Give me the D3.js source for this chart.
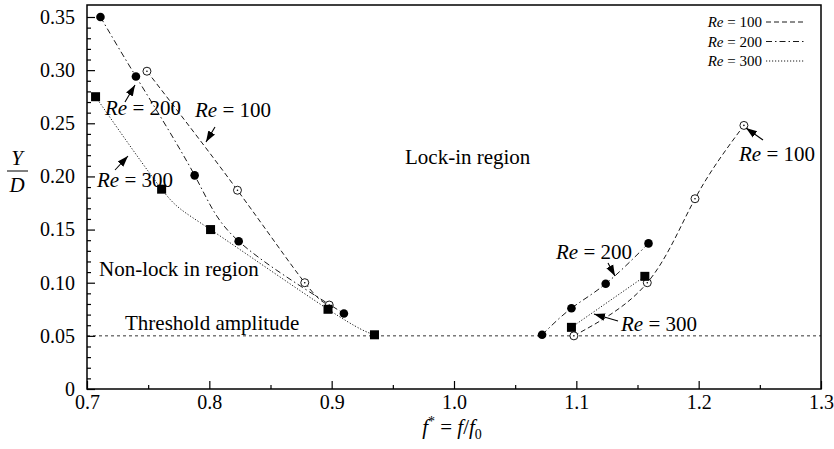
<!DOCTYPE html>
<html>
<head>
<meta charset="utf-8">
<script src="https://cdn.jsdelivr.net/npm/d3@7"></script>
<style>
  body { margin: 0; background: #fff; }
  svg { font-family: "Liberation Serif", "Times New Roman", serif; }
</style>
</head>
<body>
<svg id="chart" width="834" height="449"></svg>
<script>
// data: [f*, Y/D]
const re100Left = [[0.749, 0.299], [0.823, 0.187], [0.878, 0.100], [0.898, 0.079]];
const re100Right = [[1.098, 0.050], [1.158, 0.100], [1.197, 0.179], [1.237, 0.248]];
const re200Left = [[0.711, 0.350], [0.740, 0.294], [0.788, 0.201], [0.824, 0.139], [0.910, 0.071]];
const re200Right = [[1.072, 0.051], [1.096, 0.076], [1.124, 0.099], [1.159, 0.137]];
const re300Left = [[0.707, 0.275], [0.761, 0.188], [0.801, 0.150], [0.897, 0.075], [0.935, 0.051]];
const re300Right = [[1.096, 0.058], [1.156, 0.106]];
const threshold = 0.05;
const xTicks = [0.7, 0.8, 0.9, 1.0, 1.1, 1.2, 1.3];
const yTicks = [0, 0.05, 0.1, 0.15, 0.2, 0.25, 0.3, 0.35];

const svg = d3.select("#chart");
const frameTop = 5;

const x = d3.scaleLinear().domain([0.7, 1.3]).range([87, 821]);
const y = d3.scaleLinear().domain([0, 0.35]).range([389, 17]);

// smooth spline through the measured points
const line = d3.line().x(d => x(d[0])).y(d => y(d[1])).curve(d3.curveNatural);

// frame
svg.append("rect")
  .attr("x", x(0.7)).attr("y", frameTop)
  .attr("width", x(1.3) - x(0.7)).attr("height", y(0) - frameTop)
  .attr("fill", "none").attr("stroke", "#000").attr("stroke-width", 1.5);

// axes, ticks pointing inward
const xAxis = d3.axisBottom(x).tickValues(xTicks)
  .tickFormat(d => d === 1 ? "1.0" : d3.format("")(d))
  .tickSizeInner(-8).tickSizeOuter(0).tickPadding(6);
svg.append("g").attr("class", "ax").attr("transform", `translate(0,${y(0)})`).call(xAxis);
const xMinor = d3.axisBottom(x).tickValues(d3.range(0.75, 1.3, 0.1)).tickSize(-4).tickFormat("");
svg.append("g").attr("transform", `translate(0,${y(0)})`).call(xMinor);

const yAxis = d3.axisLeft(y).tickValues(yTicks)
  .tickFormat(d => d === 0 ? "0" : d3.format(".2f")(d))
  .tickSizeInner(-8).tickSizeOuter(0).tickPadding(12);
svg.append("g").attr("class", "ax").attr("transform", `translate(${x(0.7)},0)`).call(yAxis);
const yMinorVals = d3.range(1, 35).filter(i => i % 5 !== 0).map(i => i / 100);
const yMinor = d3.axisLeft(y).tickValues(yMinorVals).tickSize(-4).tickFormat("");
svg.append("g").attr("transform", `translate(${x(0.7)},0)`).call(yMinor);

svg.selectAll(".domain").remove();
svg.selectAll(".tick line").attr("stroke", "#000").attr("stroke-width", 1.2);
svg.selectAll(".ax .tick text").attr("font-size", 20).attr("font-family", "Liberation Serif").attr("fill", "#000");

// threshold amplitude
svg.append("line")
  .attr("x1", x(0.7)).attr("x2", x(1.3))
  .attr("y1", y(threshold)).attr("y2", y(threshold))
  .attr("stroke", "#000").attr("stroke-width", 0.8).attr("stroke-dasharray", "3,3");

// curves
const styles = {
  100: "5,3",
  200: "6,3,1.5,3",
  300: "1.2,1.8"
};
const curves = [
  [re100Left, styles[100]], [re100Right, styles[100]],
  [re200Left, styles[200]], [re200Right, styles[200]],
  [re300Left, styles[300]], [re300Right, styles[300]]
];
curves.forEach(([data, dash]) => {
  svg.append("path").datum(data).attr("d", line)
    .attr("fill", "none").attr("stroke", "#000").attr("stroke-width", 0.9)
    .attr("stroke-dasharray", dash);
});

// markers
svg.selectAll(".open").data(re100Left.concat(re100Right)).join("g")
  .attr("transform", d => `translate(${x(d[0])},${y(d[1])})`)
  .each(function () {
    const g = d3.select(this);
    g.append("circle").attr("r", 4).attr("fill", "#fff").attr("stroke", "#000").attr("stroke-width", 0.9);
    g.append("circle").attr("r", 0.8).attr("fill", "#000");
  });
svg.selectAll(".filled").data(re200Left.concat(re200Right)).join("circle")
  .attr("cx", d => x(d[0])).attr("cy", d => y(d[1])).attr("r", 4.3).attr("fill", "#000");
svg.selectAll(".sq").data(re300Left.concat(re300Right)).join("rect")
  .attr("x", d => x(d[0]) - 4.5).attr("y", d => y(d[1]) - 4.5)
  .attr("width", 9).attr("height", 9).attr("fill", "#000");

// annotations
svg.append("defs").append("marker")
  .attr("id", "arr").attr("viewBox", "0 0 10 10").attr("refX", 10).attr("refY", 5)
  .attr("markerWidth", 11).attr("markerHeight", 11).attr("markerUnits", "userSpaceOnUse")
  .attr("orient", "auto")
  .append("path").attr("d", "M0,1.5 L10,5 L0,8.5 Z").attr("fill", "#000");

function reLabel(tx, ty, num, size) {
  const t = svg.append("text").attr("x", tx).attr("y", ty).attr("font-size", size || 21).attr("fill", "#000");
  t.append("tspan").attr("font-style", "italic").text("Re");
  t.append("tspan").text(" = " + num);
  return t;
}
function arrow(x1, y1, x2, y2) {
  svg.append("line").attr("x1", x1).attr("y1", y1).attr("x2", x2).attr("y2", y2)
    .attr("stroke", "#000").attr("stroke-width", 1.1).attr("marker-end", "url(#arr)");
}
reLabel(105, 115, 200); arrow(125, 102, 135, 85);
reLabel(195, 117, 100); arrow(215, 127, 206, 142);
reLabel(97, 187, 300); arrow(115, 170, 128, 156);
reLabel(739, 161, 100); arrow(763, 140, 746, 128);
reLabel(556, 259, 200); arrow(608, 263, 615, 276);
reLabel(621, 331, 300); arrow(618, 321, 594, 314);

svg.append("text").attr("x", 405).attr("y", 164).attr("font-size", 21).text("Lock-in region");
svg.append("text").attr("x", 99).attr("y", 276).attr("font-size", 21).text("Non-lock in region");
svg.append("text").attr("x", 125).attr("y", 330).attr("font-size", 21).text("Threshold amplitude");

// axis titles
const xt = svg.append("text").attr("x", 452).attr("y", 434).attr("text-anchor", "middle").attr("font-size", 21);
xt.append("tspan").attr("font-style", "italic").text("f");
xt.append("tspan").attr("dy", -8).attr("font-size", 14).text("*");
xt.append("tspan").attr("dy", 8).text(" = ");
xt.append("tspan").attr("font-style", "italic").text("f");
xt.append("tspan").text("/");
xt.append("tspan").attr("font-style", "italic").text("f");
xt.append("tspan").attr("dy", 5).attr("font-size", 14).text("0");

svg.append("text").attr("x", 17).attr("y", 165).attr("text-anchor", "middle").attr("font-size", 21).attr("font-style", "italic").text("Y");
svg.append("line").attr("x1", 7).attr("x2", 28).attr("y1", 171).attr("y2", 171).attr("stroke", "#000").attr("stroke-width", 1);
svg.append("text").attr("x", 17).attr("y", 192).attr("text-anchor", "middle").attr("font-size", 21).attr("font-style", "italic").text("D");

// legend
const legendNames = ["100", "200", "300"];
legendNames.forEach((num, i) => {
  const ly = 22 + i * 19.5;
  const t = svg.append("text").attr("x", 762).attr("y", ly + 5).attr("text-anchor", "end").attr("font-size", 15);
  t.append("tspan").attr("font-style", "italic").text("Re");
  t.append("tspan").text(" = " + num);
  svg.append("line").attr("x1", 766).attr("x2", 805).attr("y1", ly).attr("y2", ly)
    .attr("stroke", "#000").attr("stroke-width", 0.9).attr("stroke-dasharray", styles[num]);
});
</script>
</body>
</html>
